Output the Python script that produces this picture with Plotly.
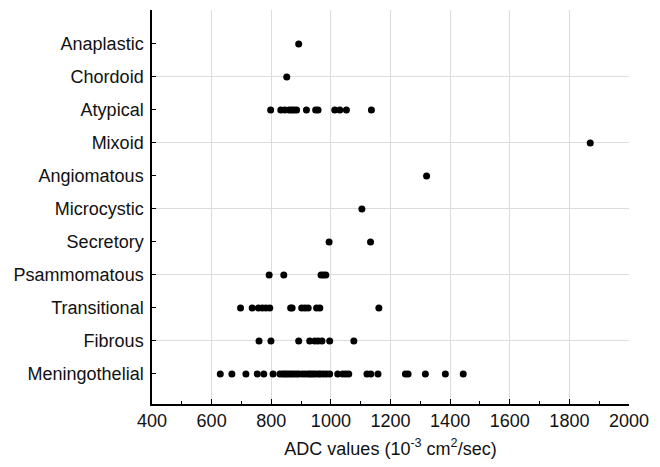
import plotly.graph_objects as go

categories = ["Meningothelial", "Fibrous", "Transitional", "Psammomatous", "Secretory",
              "Microcystic", "Angiomatous", "Mixoid", "Atypical", "Chordoid", "Anaplastic"]

meningothelial = [629, 668, 715, 753, 775, 806, 829, 838, 845, 852, 860, 868, 876, 885, 893,
                  905, 915, 925, 932, 940, 948, 958, 965, 975, 985, 996, 1023, 1040, 1050,
                  1060, 1121, 1134, 1158, 1250, 1259, 1317, 1384, 1444]
fibrous = [759, 799, 892, 929, 946, 957, 970, 996, 1077]
transitional = [697, 736, 757, 770, 782, 795, 865, 870, 902, 913, 924, 952, 963, 1161]
psammomatous = [793, 842, 967, 975, 983]
secretory = [994, 1133]
microcystic = [1104]
angiomatous = [1321]
mixoid = [1870]
atypical = [798, 832, 845, 860, 868, 876, 885, 918, 949, 957, 1013, 1030, 1052, 1136]
chordoid = [852]
anaplastic = [892]

series = [meningothelial, fibrous, transitional, psammomatous, secretory, microcystic,
          angiomatous, mixoid, atypical, chordoid, anaplastic]

xs, ys = [], []
for i, vals in enumerate(series):
    xs += vals
    ys += [i] * len(vals)

grid_rows = [1, 3, 5, 7, 9]

fig = go.Figure()
fig.add_trace(go.Scatter(x=xs, y=ys, mode="markers",
                         marker=dict(color="black", size=7), showlegend=False))
# invisible trace to activate the overlay axis carrying alternating gridlines
fig.add_trace(go.Scatter(x=[None], y=[None], yaxis="y2", showlegend=False))

font = "Liberation Sans, Arial, sans-serif"
fig.update_layout(
    width=652, height=459,
    margin=dict(l=144, r=31, t=2, b=63),
    plot_bgcolor="white", paper_bgcolor="white",
    font=dict(family=font, size=18, color="#111111"),
    xaxis=dict(
        range=[400, 2000], tickmode="array",
        tickvals=[400, 600, 800, 1000, 1200, 1400, 1600, 1800, 2000],
        showgrid=True, gridcolor="#dcdcdc", gridwidth=1,
        zeroline=False, showline=True, linecolor="black", linewidth=1.5,
        ticks="inside", ticklen=5, tickcolor="black",
        minor=dict(dtick=100, ticks="inside", ticklen=3, tickcolor="black", showgrid=False),
        title=dict(text="ADC values (10<sup>-3</sup> cm<sup>2</sup>/sec)", standoff=12,
                   font=dict(size=18)),
        ticklabelstandoff=0,
    ),
    yaxis=dict(
        range=[-0.91, 11.03], tickmode="array",
        tickvals=list(range(len(categories))), ticktext=categories,
        showgrid=False, zeroline=False, showline=True, linecolor="black", linewidth=1.5,
        ticks="inside", ticklen=4, tickcolor="black", ticklabelstandoff=3,
    ),
    yaxis2=dict(
        overlaying="y", matches="y", tickmode="array", tickvals=grid_rows,
        showticklabels=False, showgrid=True, gridcolor="#dcdcdc", gridwidth=1,
        zeroline=False, showline=False, ticks="",
    ),
)

fig.write_html("out.html")
